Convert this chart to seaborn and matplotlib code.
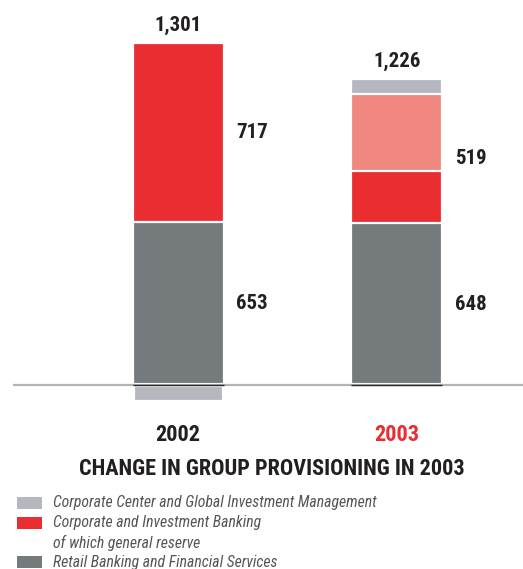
import numpy as np
import pandas as pd
import matplotlib
matplotlib.use("Agg")
import matplotlib.pyplot as plt
from matplotlib import font_manager as fm
from matplotlib.patches import Rectangle
import seaborn as sns

# --- data (EUR millions) ---
years = ["2002", "2003"]
retail = [653, 648]              # Retail Banking and Financial Services
cib_other = [717, 210]           # Corporate and Investment Banking (excl. general reserve)
general_reserve = [0, 309]       # of which general reserve
corp_center = [-69, 59]          # Corporate Center and Global Investment Management
totals = [1301, 1226]
cib_totals = [717, 519]

legend_labels = [
    "Corporate Center and Global Investment Management",
    "Corporate and Investment Banking",
    "of which general reserve",
    "Retail Banking and Financial Services",
]
title = "CHANGE IN GROUP PROVISIONING IN 2003"

C_LIGHT = "#b4b8be"
C_RED = "#e92d31"
C_PINK = "#f08680"
C_GRAY = "#757b7d"
C_TEXT = "#231f20"

sns.set_theme(style="white")

names = {f.name for f in fm.fontManager.ttflist}
W, H = 523, 569
fig = plt.figure(figsize=(W / 100, H / 100), dpi=100)

for cand in ["Liberation Sans Narrow", "DejaVu Sans Condensed", "Roboto Condensed", "Liberation Sans"]:
    if cand in names:
        FONT = cand
        break
else:
    FONT = "DejaVu Sans"
plt.rcParams["font.family"] = [FONT, "DejaVu Sans"]
narrow = FONT in ("Liberation Sans Narrow", "Roboto Condensed", "DejaVu Sans Condensed")
k = 1.0 if narrow else 0.86
if FONT == "DejaVu Sans Condensed":
    k = 0.9

# axes placement in pixels
ax_top, ax_bot = 0, 410
ax = fig.add_axes([13 / W, (H - ax_bot) / H, (W - 13) / W, (ax_bot - ax_top) / H])

df = pd.DataFrame({
    "year": years,
    "retail": retail,
    "cib": np.add(retail, np.maximum(cib_other, 0)),
    "reserve": np.add(np.add(retail, cib_other), general_reserve),
})
pos = np.array(corp_center) > 0
df["center_top"] = np.where(pos, df["reserve"] + np.array(corp_center), 0)
df["center_neg"] = np.where(~pos, np.array(corp_center), 0)

bw = 0.4165
edge = dict(edgecolor="white", linewidth=1.6)
# layers drawn from the tallest cumulative level down
sns.barplot(data=df, x="year", y="center_top", color=C_LIGHT, width=bw, ax=ax, saturation=1, **edge)
sns.barplot(data=df, x="year", y="reserve", color=C_PINK, width=bw, ax=ax, saturation=1, **edge)
sns.barplot(data=df, x="year", y="cib", color=C_RED, width=bw, ax=ax, saturation=1, **edge)
sns.barplot(data=df, x="year", y="retail", color=C_GRAY, width=bw, ax=ax, saturation=1, **edge)
sns.barplot(data=df, x="year", y="center_neg", color=C_LIGHT, width=bw, ax=ax, saturation=1,
            edgecolor="white", linewidth=3)

ax.set_ylim(-100.2, 1542.5)
ax.set_xlim(-0.756, 1.578)
ax.axhline(0, color="#b3b3b3", lw=1.6, zorder=5)
# dark base line under each bar
xs = np.arange(len(years))
ax.hlines([0] * len(xs), xs - bw / 2, xs + bw / 2, color="#2a2a2a", lw=1.0, zorder=6)
ax.set_axis_off()

# value labels
vfs = 15 * k
stack_tops = df[["center_top", "reserve", "cib", "retail"]].max(axis=1).to_numpy()
for i, t in enumerate(totals):
    top = max(stack_tops[i], 0)
    ax.annotate(f"{t:,}", (i, top), xytext=(0, 8.5), textcoords="offset points",
                ha="center", va="baseline", fontsize=vfs, fontweight="bold", color=C_TEXT)
for i in range(2):
    xr = i + bw / 2
    cib_mid = (df["retail"][i] + df["reserve"][i]) / 2
    ret_mid = df["retail"][i] / 2
    ax.annotate(f"{cib_totals[i]}", (xr, cib_mid), xytext=(9, 0), textcoords="offset points",
                ha="left", va="center", fontsize=vfs, fontweight="bold", color=C_TEXT)
    ax.annotate(f"{retail[i]}", (xr, ret_mid), xytext=(9, 0), textcoords="offset points",
                ha="left", va="center", fontsize=vfs, fontweight="bold", color=C_TEXT)

# year labels
for i, (yr, col) in enumerate(zip(years, [C_TEXT, C_RED])):
    ax.annotate(yr, (i, 0), xytext=(0, -40), textcoords="offset points",
                ha="center", va="baseline", fontsize=16 * k, fontweight="bold", color=col)

def fy(py):
    return 1 - py / H

fig.text(272 / W, fy(469), title, ha="center", va="center", fontsize=16 * k,
         fontweight="bold", color=C_TEXT)

# legend
swatches = [(497, C_LIGHT), (517, C_RED), (556, C_GRAY)]
for y0, c in swatches:
    fig.add_artist(Rectangle((17 / W, fy(y0 + 12)), 25 / W, 12 / H, transform=fig.transFigure,
                             facecolor=c, edgecolor="none"))
for lbl, yc in zip(legend_labels, [503, 523, 543, 563]):
    fig.text(53 / W, fy(yc), lbl, ha="left", va="center", fontsize=11.3 * k, style="italic",
             color="#555555")

fig.savefig("out.png", dpi=100)
